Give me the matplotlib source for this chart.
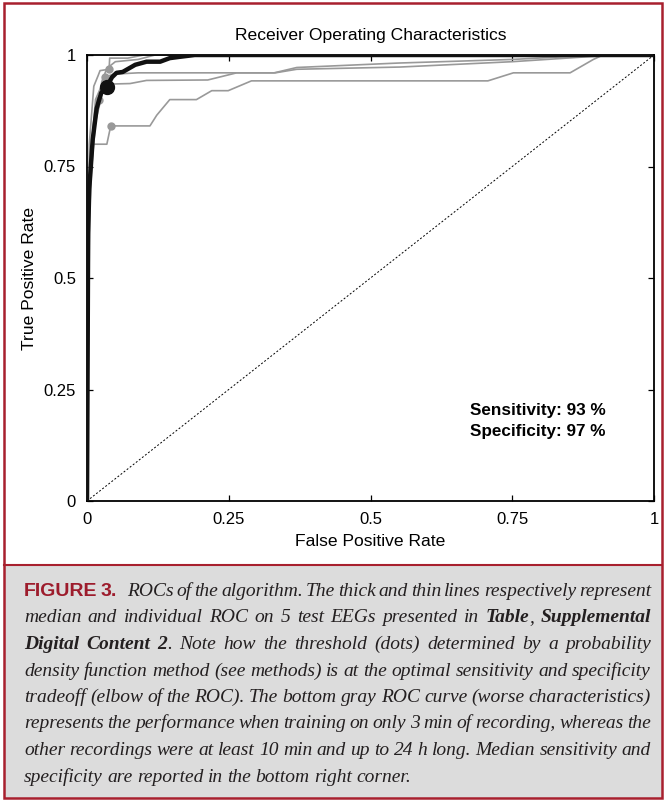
import matplotlib
matplotlib.use('Agg')
import matplotlib.pyplot as plt
from matplotlib.patches import Rectangle
import numpy as np

W, H = 665, 801

# median ROC (thick black) and its threshold point
median_fpr = [0, 0.002, 0.004, 0.01, 0.017, 0.025, 0.035, 0.044, 0.052, 0.063, 0.085,
              0.105, 0.129, 0.146, 0.164, 0.19, 1.0]
median_tpr = [0, 0.60, 0.70, 0.81, 0.88, 0.915, 0.929, 0.95, 0.96, 0.962, 0.978,
              0.985, 0.985, 0.993, 0.996, 1.0, 1.0]
median_dot = (0.035, 0.929)

# individual ROCs (thin gray)
roc_a_fpr = [0, 0.003, 0.01, 0.035, 0.04, 0.042, 0.111, 0.123, 0.146, 0.193, 0.22, 0.249,
             0.29, 0.707, 0.752, 0.852, 0.893, 0.91, 1.0]
roc_a_tpr = [0, 0.60, 0.80, 0.80, 0.83, 0.841, 0.841, 0.865, 0.90, 0.90, 0.92, 0.92,
             0.942, 0.942, 0.96, 0.96, 0.99, 1.0, 1.0]
roc_a_dot = (0.042, 0.841)

roc_b_fpr = [0, 0.005, 0.015, 0.03, 0.046, 0.076, 0.105, 0.213, 0.264, 0.332, 0.37,
             0.552, 0.75, 0.93, 1.0]
roc_b_tpr = [0, 0.70, 0.85, 0.93, 0.935, 0.936, 0.943, 0.944, 0.96, 0.96, 0.968,
             0.973, 0.985, 1.0, 1.0]
roc_b_dot = (0.03, 0.93)

roc_c_fpr = [0, 0.005, 0.015, 0.032, 0.046, 0.09, 0.33, 0.37, 0.55, 0.75, 0.9, 1.0]
roc_c_tpr = [0, 0.75, 0.90, 0.95, 0.957, 0.96, 0.96, 0.972, 0.982, 0.99, 1.0, 1.0]
roc_c_dot = (0.032, 0.95)

roc_d_fpr = [0, 0.004, 0.012, 0.02, 0.023, 0.039, 0.040, 0.072, 0.1, 1.0]
roc_d_tpr = [0, 0.80, 0.93, 0.955, 0.965, 0.968, 0.993, 0.993, 1.0, 1.0]
roc_d_dot = (0.039, 0.968)

roc_e_fpr = [0, 0.004, 0.012, 0.022, 0.026, 0.035, 0.05, 0.09, 0.12, 1.0]
roc_e_tpr = [0, 0.70, 0.85, 0.90, 0.94, 0.97, 0.985, 0.99, 1.0, 1.0]
roc_e_dot = (0.022, 0.90)

ticks = [0, 0.25, 0.5, 0.75, 1]
tick_labels = ['0', '0.25', '0.5', '0.75', '1']

sens_text = 'Sensitivity: 93 %'
spec_text = 'Specificity: 97 %'

RED = '#a8202e'
GRAY = '#999999'

fig = plt.figure(figsize=(W / 100, H / 100), dpi=100)

# caption box background + red frame
fig.patches.append(Rectangle((4 / W, 1 - 798 / H), 658 / W, (798 - 565) / H,
                             transform=fig.transFigure, facecolor='#dcdcdc',
                             edgecolor='none', zorder=0))
fig.lines.append(plt.Line2D([4 / W, 662 / W], [1 - 565 / H, 1 - 565 / H],
                            transform=fig.transFigure, color=RED, lw=1.5))
fig.patches.append(Rectangle((4 / W, 1 - 798 / H), 658 / W, 795 / H,
                             transform=fig.transFigure, facecolor='none',
                             edgecolor=RED, lw=1.8, zorder=5))

ax = fig.add_axes([87 / W, 1 - 501 / H, 567 / W, 446 / H])
plt.rcParams['font.family'] = 'Liberation Sans'

ax.plot([0, 1], [0, 1], color='black', ls=(0, (2, 2)), lw=0.7)

grays = [(roc_a_fpr, roc_a_tpr, roc_a_dot), (roc_b_fpr, roc_b_tpr, roc_b_dot),
         (roc_c_fpr, roc_c_tpr, roc_c_dot), (roc_d_fpr, roc_d_tpr, roc_d_dot),
         (roc_e_fpr, roc_e_tpr, roc_e_dot)]
for fx, ty, dot in grays:
    ax.plot(fx, ty, color=GRAY, lw=1.2, zorder=2)
    ax.plot(dot[0], dot[1], 'o', color=GRAY, ms=6, mec='none', zorder=2)

ax.plot(median_fpr, median_tpr, color='#111111', lw=3.2, zorder=3, solid_joinstyle='round')
ax.plot(median_dot[0], median_dot[1], 'o', color='#111111', ms=10, zorder=4)

ax.set_xlim(0, 1)
ax.set_ylim(0, 1)
ax.set_xticks(ticks)
ax.set_xticklabels(tick_labels, family='Liberation Sans', fontsize=12)
ax.set_yticks(ticks)
ax.set_yticklabels(tick_labels, family='Liberation Sans', fontsize=12)
ax.tick_params(direction='in', top=True, right=True, length=4, width=0.9, pad=8)
for s in ax.spines.values():
    s.set_linewidth(1.3)

ax.set_title('Receiver Operating Characteristics', family='Liberation Sans',
             fontsize=12.6, pad=11)
ax.set_xlabel('False Positive Rate', family='Liberation Sans', fontsize=12.6, labelpad=5)
ax.set_ylabel('True Positive Rate', family='Liberation Sans', fontsize=12.6, labelpad=5)

ax.text(0.675, 0.204, sens_text, fontsize=12.3, fontweight='bold', family='Liberation Sans',
        va='center', ha='left')
ax.text(0.675, 0.155, spec_text, fontsize=12.3, fontweight='bold', family='Liberation Sans',
        va='center', ha='left')

# caption, justified word by word
styles = {
    'fig': dict(family='Liberation Sans', weight='bold', size=14, color='#9d1c2c'),
    'it': dict(family='Liberation Serif', style='italic', size=14, color='#231f20'),
    'bi': dict(family='Liberation Serif', style='italic', weight='bold', size=14,
               color='#231f20'),
}
caption = [
    [('FIGURE 3.', 'fig'), (' ROCs of the algorithm. The thick and thin lines respectively represent', 'it')],
    [('median and individual ROC on 5 test EEGs presented in ', 'it'), ('Table', 'bi'), (', ', 'it'),
     ('Supplemental', 'bi')],
    [('Digital Content 2', 'bi'), ('. Note how the threshold (dots) determined by a probability', 'it')],
    [('density function method (see methods) is at the optimal sensitivity and specificity', 'it')],
    [('tradeoff (elbow of the ROC). The bottom gray ROC curve (worse characteristics)', 'it')],
    [('represents the performance when training on only 3 min of recording, whereas the', 'it')],
    [('other recordings were at least 10 min and up to 24 h long. Median sensitivity and', 'it')],
    [('specificity are reported in the bottom right corner.', 'it')],
]

renderer = fig.canvas.get_renderer()
x0, x1 = 24, 651
for i, line in enumerate(caption):
    yb = 596 + 26.5 * i
    words = [[]]
    for txt, st in line:
        parts = txt.split(' ')
        for k, p in enumerate(parts):
            if k > 0 and words[-1]:
                words.append([])
            if p:
                words[-1].append((p, st))
    if not words[-1]:
        words.pop()
    items = []
    total = 0
    extra = 0
    for w in words:
        pieces = []
        for p, st in w:
            t = fig.text(0, 1 - yb / H, p, va='baseline', ha='left', **styles[st])
            wd = t.get_window_extent(renderer).width
            if st == 'fig' and p.endswith('.'):
                wd += 7  # wider gap after the figure label
            pieces.append((t, wd))
            total += wd
        items.append(pieces)
    last = i == len(caption) - 1
    gap = 4.5 if last else (x1 - x0 - total) / (len(items) - 1)
    x = x0
    for pieces in items:
        for t, wd in pieces:
            t.set_x(x / W)
            x += wd
        x += gap

fig.savefig('out.png', dpi=100)
